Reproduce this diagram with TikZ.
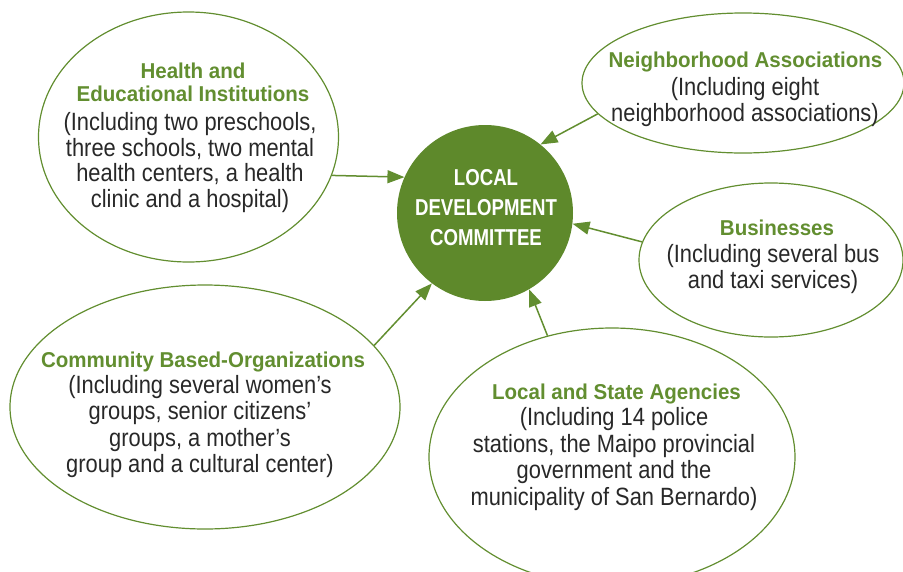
\documentclass[tikz,border=0pt]{standalone}
\usepackage{fontspec}
\setmainfont{Liberation Sans}
\newfontfamily\bodyfont[FakeStretch=0.875]{Liberation Sans}
\newfontfamily\headfont[FakeStretch=0.955]{Liberation Sans}
\newfontfamily\circfont[FakeStretch=0.81]{Liberation Sans}
\usetikzlibrary{shapes.geometric,arrows.meta}
\definecolor{ldgreen}{RGB}{94,137,43}
\definecolor{hdgreen}{RGB}{98,142,48}
\definecolor{bodygray}{RGB}{40,40,40}
\tikzset{
  ell/.style={ellipse, draw=hdgreen, line width=1.2pt, inner sep=0pt},
  head/.style={anchor=north, inner sep=0pt, align=center, text=hdgreen,
    font=\headfont\bfseries\fontsize{21.5}{23}\selectfont},
  body/.style={anchor=north, inner sep=0pt, align=center, text=bodygray,
    font=\bodyfont\fontsize{25}{26.3}\selectfont},
  arr/.style={draw=hdgreen, line width=1.5pt, -{Triangle[length=17pt,width=13pt]}},
}
\begin{document}
\begin{tikzpicture}[x=1pt,y=-1pt]
\useasboundingbox (0,0) rectangle (903,571);
% central circle
\node[circle, fill=ldgreen, minimum size=176pt, inner sep=0pt] (ldc) at (485,213) {};
\node[anchor=north, inner sep=0pt, align=center, text=white,
  font=\circfont\bfseries\fontsize{23}{30}\selectfont] (ldctxt) at (486,169.5)
  {LOCAL\\DEVELOPMENT\\COMMITTEE};
% ellipses
\node[ell, minimum width=300pt, minimum height=250pt] (health) at (188.5,137) {};
\node[ell, minimum width=322pt, minimum height=140pt] (neigh) at (743,83) {};
\node[ell, minimum width=264pt, minimum height=154pt] (bus) at (771,260) {};
\node[ell, minimum width=390pt, minimum height=244pt] (comm) at (205,407) {};
\node[ell, minimum width=366pt, minimum height=258pt] (agency) at (612,457) {};
% texts
\node[head] (healthhd) at (193,62.6) {Health and\\Educational Institutions};
\node[body, font=\bodyfont\fontsize{25}{25.7}\selectfont] (healthbd) at (190,112.1)
  {(Including two preschools,\\three schools, two mental\\health centers, a health\\clinic and a hospital)};
\node[head] (neighhd) at (745.5,51.6) {Neighborhood Associations};
\node[body] (neighbd) at (745,77.1) {(Including eight\\neighborhood associations)};
\node[head] (bushd) at (777,219.6) {Businesses};
\node[body] (busbd) at (773,244.1) {(Including several bus\\and taxi services)};
\node[head] (commhd) at (203,351.6) {Community Based-Organizations};
\node[body] (commbd) at (200,375.1)
  {(Including several women’s\\groups, senior citizens’\\groups, a mother’s\\group and a cultural center)};
\node[head] (agencyhd) at (616.5,383.6) {Local and State Agencies};
\node[body, font=\bodyfont\fontsize{25}{26.7}\selectfont] (agencybd) at (614,407.1)
  {(Including 14 police\\stations, the Maipo provincial\\government and the\\municipality of San Bernardo)};
% connectors
\draw[arr] (health.-15.2) -- (ldc.156);
\draw[arr] (neigh.192.4) -- (ldc.51);
\draw[arr] (bus.172) -- (ldc.-7);
\draw[arr] (comm.20) -- (ldc.233);
\draw[arr] (agency.118.8) -- (ldc.300);
\end{tikzpicture}
\end{document}
